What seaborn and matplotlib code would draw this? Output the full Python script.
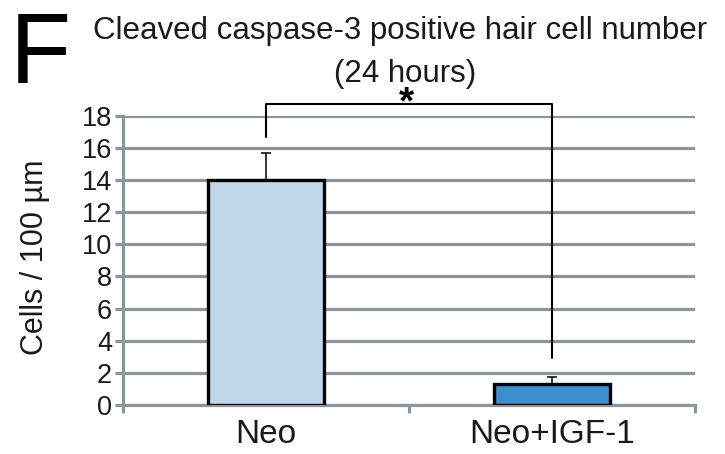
import matplotlib
matplotlib.use("Agg")
import matplotlib.pyplot as plt
import seaborn as sns
import pandas as pd

groups = ["Neo", "Neo+IGF-1"]
means = [14.0, 1.3]
errors = [1.7, 0.45]
bar_colors = ["#c0d6ea", "#3b8fcd"]
y_ticks = [0, 2, 4, 6, 8, 10, 12, 14, 16, 18]

sns.set_theme(style="white")
plt.rcParams["font.family"] = ["Liberation Sans", "DejaVu Sans"]

grid_color = "#8b959b"
text_color = "#1a1a1a"

fig = plt.figure(figsize=(7.25, 4.54), dpi=100)
ax = fig.add_axes([0.1697, 0.108, 0.7889, 0.637])

df = pd.DataFrame({"group": groups, "value": means})
sns.barplot(data=df, x="group", y="value", hue="group", palette=bar_colors,
            saturation=1, legend=False, width=0.405, edgecolor="black",
            linewidth=2.4, errorbar=None, ax=ax, zorder=3)

# upper-only error bars
ax.errorbar(range(len(groups)), means, yerr=[[0] * len(errors), errors],
            fmt="none", ecolor="black", elinewidth=1.1, capsize=3.5,
            capthick=1.1, zorder=4)

ax.set_xlim(-0.5, 1.5)
ax.set_ylim(0, 18)
ax.set_yticks(y_ticks)
ax.yaxis.grid(True, color=grid_color, linewidth=2.3, zorder=0)
ax.set_axisbelow(True)

for side in ["top", "right"]:
    ax.spines[side].set_visible(False)
for side in ["left", "bottom"]:
    ax.spines[side].set_color(grid_color)
    ax.spines[side].set_linewidth(2.3)
ax.spines["left"].set_bounds(0, 18)

ax.tick_params(axis="y", which="major", direction="out", length=6, width=2.3,
               color=grid_color, labelsize=19.5, pad=2, left=True)
ax.tick_params(axis="x", which="major", length=0, labelsize=24, pad=10)
ax.set_xticks([-0.5, 0.5, 1.5], minor=True)
ax.tick_params(axis="x", which="minor", direction="out", length=6, width=2.3,
               color=grid_color, bottom=True)
for lbl in ax.get_yticklabels() + ax.get_xticklabels():
    lbl.set_color(text_color)

ax.set_xlabel("")
ax.set_ylabel("Cells / 100 µm", fontsize=22, color=text_color)
ax.yaxis.set_label_coords(-0.128, 0.51)

# significance bracket between the two groups
bracket_top = 18.75
ax.plot([0, 0, 1, 1], [16.7, bracket_top, bracket_top, 2.9], color="black",
        linewidth=1.5, clip_on=False, zorder=5)
ax.text(0.49, 18.15, "*", ha="center", va="baseline", fontsize=28,
        fontweight="bold", color="black", clip_on=False)

fig.text(0.552, 0.914, "Cleaved caspase-3 positive hair cell number",
         ha="center", va="baseline", fontsize=22.5, color=text_color)
fig.text(0.559, 0.819, "(24 hours)",
         ha="center", va="baseline", fontsize=22.5, color=text_color)
fig.text(0.014, 0.817, "F", ha="left", va="baseline", fontsize=72,
         color="black")

fig.savefig("out.png", dpi=100)
